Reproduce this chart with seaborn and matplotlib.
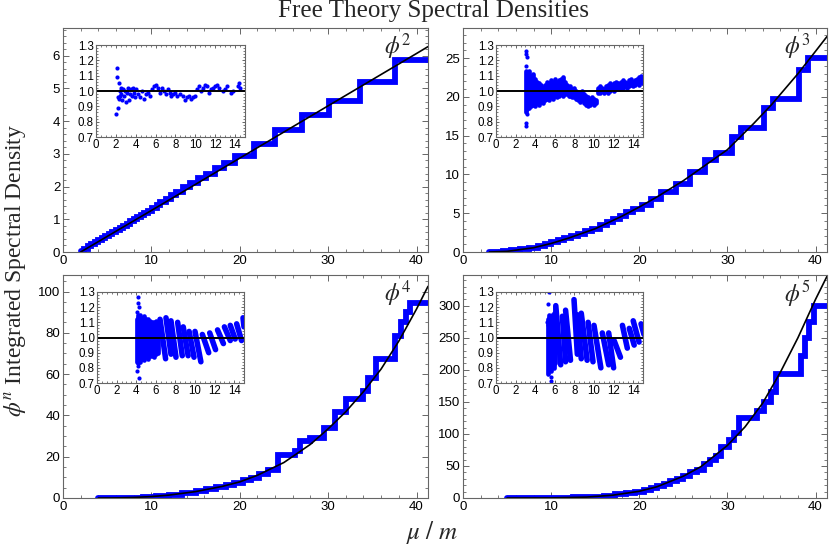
import matplotlib
matplotlib.use("Agg")
import matplotlib.pyplot as plt
import seaborn as sns
from matplotlib.ticker import MultipleLocator

# ---------------- main panels: smooth free-theory curve ----------------
curve2_x = [2.0, 10.0, 20.0, 30.0, 40.0, 41.3]
curve2_y = [0.0, 1.27, 2.87, 4.47, 6.07, 6.28]
curve3_x = [3.0, 5.0, 8.0, 10.0, 12.0, 15.0, 18.0, 20.0, 22.0, 25.0, 28.0, 30.0, 33.0, 35.0, 38.0, 40.0, 41.3]
curve3_y = [0.0, 0.08, 0.55, 1.1, 1.8, 3.0, 4.6, 5.8, 7.1, 9.2, 11.6, 13.2, 16.6, 19.0, 23.0, 25.9, 27.8]
curve4_x = [4.0, 6.0, 8.0, 10.0, 12.0, 15.0, 18.0, 20.0, 22.0, 25.0, 28.0, 30.0, 32.0, 34.0, 36.0, 38.0, 40.0, 41.3]
curve4_y = [0.0, 0.05, 0.25, 0.7, 1.4, 3.1, 5.6, 7.8, 11.0, 17.2, 26.0, 33.5, 41.8, 51.5, 62.5, 76.0, 91.5, 102.5]
curve5_x = [5.0, 10.0, 14.0, 17.0, 20.0, 22.0, 25.0, 27.0, 30.0, 32.0, 34.0, 36.0, 38.0, 40.0, 41.3]
curve5_y = [0.0, 0.15, 1.4, 4.4, 10.5, 17.5, 34.0, 49.0, 82.0, 111.0, 148.0, 196.0, 250.0, 310.0, 346.0]

# ---------------- main panels: lattice staircase ----------------
step2_x = [2.0, 2.4, 2.8, 3.2, 3.6, 4.0, 4.4, 4.8, 5.2, 5.6, 6.0, 6.4, 6.8, 7.2, 7.6, 8.0, 8.4, 8.8,
           9.2, 9.6, 10.1, 10.6, 11.0, 11.6, 12.2, 12.8, 13.6, 14.4, 15.3, 16.2, 17.2, 18.2, 19.5,
           21.6, 24.0, 27.0, 30.1, 33.6, 37.6, 41.3]
step2_y = [0.04, 0.10, 0.17, 0.23, 0.30, 0.36, 0.42, 0.49, 0.55, 0.62, 0.68, 0.74, 0.81, 0.87, 0.94, 1.00,
           1.06, 1.13, 1.19, 1.26, 1.36, 1.44, 1.52, 1.62, 1.73, 1.83, 1.98, 2.10, 2.26, 2.40, 2.56, 2.72,
           2.94, 3.30, 3.74, 4.20, 4.63, 5.20, 5.88, 5.88]
step3_x = [3.0, 4.5, 5.5, 6.5, 7.5, 8.5, 9.3, 10.0, 10.8, 11.5, 12.2, 13.0, 13.8, 14.6, 15.5, 16.3,
           17.0, 17.8, 18.5, 19.3, 20.3, 21.3, 22.5, 24.2, 25.8, 27.5, 28.7, 30.5, 31.5, 34.2, 35.2,
           38.1, 39.1, 41.3]
step3_y = [0.02, 0.10, 0.22, 0.40, 0.58, 0.80, 1.0, 1.25, 1.5, 1.75, 2.0, 2.3, 2.65, 3.0, 3.45, 3.85,
           4.25, 4.7, 5.1, 5.5, 6.1, 6.8, 7.8, 8.8, 10.3, 11.9, 12.8, 14.9, 16.0, 18.6, 19.8,
           23.5, 25.0, 25.0]
step4_x = [4.0, 7.0, 9.0, 10.5, 12.0, 13.5, 15.0, 16.2, 17.3, 18.4, 19.4, 20.4, 21.3, 22.2, 23.2,
           24.3, 26.2, 26.8, 28.0, 29.5, 30.8, 32.0, 33.9, 34.5, 35.4, 37.6, 38.3, 38.8, 39.3, 41.3]
step4_y = [0.0, 0.15, 0.5, 0.95, 1.6, 2.4, 3.4, 4.3, 5.2, 6.2, 7.2, 8.5, 9.8, 11.5, 13.5,
           21.0, 23.0, 27.5, 29.0, 34.0, 41.5, 47.9, 52.0, 58.0, 67.4, 78.5, 85.0, 90.0, 94.4, 94.4]
step5_x = [5.0, 10.0, 12.5, 14.5, 16.0, 17.3, 18.5, 19.5, 20.5, 21.3, 22.0, 22.8, 23.5, 24.3, 25.0,
           25.8, 26.5, 27.3, 28.0, 28.7, 29.3, 30.2, 30.7, 31.3, 33.4, 34.2, 35.0, 35.5, 38.3, 38.8,
           39.3, 39.85, 41.3]
step5_y = [0.0, 0.3, 1.0, 2.0, 3.5, 5.5, 7.5, 9.5, 12.5, 15.5, 18.5, 22.5, 26.0, 30.0, 35.0,
           40.0, 44.0, 53.0, 60.0, 66.0, 80.0, 90.0, 101.0, 124.5, 135.0, 150.0, 165.0, 193.0, 222.0, 250.0,
           275.0, 300.0, 300.0]

# ---------------- insets: ratio lattice / continuum ----------------
ratio2_x = [2.05, 2.08, 2.15, 2.2, 2.25, 2.3, 2.35, 2.4, 2.45, 2.5, 2.55, 2.6, 2.7, 2.8, 2.9, 3.0,
            3.1, 3.2, 3.3, 3.4, 3.5, 3.6, 3.7, 3.8, 3.9, 4.0, 4.2, 4.4, 4.6, 4.8, 5.0, 5.2, 5.4,
            5.6, 5.8, 6.0, 6.2, 6.4, 6.6, 6.8, 7.0, 7.2, 7.4, 7.6, 7.8, 8.0, 8.2, 8.5, 8.8, 9.0,
            9.2, 9.4, 9.6, 9.8, 10.0, 10.2, 10.4, 10.6, 10.8, 11.0, 11.2, 11.4, 11.6, 11.8, 12.0,
            12.2, 12.4, 12.8, 13.0, 13.2, 13.6, 13.8, 14.3, 14.4, 14.5]
ratio2_y = [0.85, 1.15, 1.09, 0.96, 0.89, 1.05, 0.95, 1.0, 0.97, 1.02, 0.98, 0.94, 1.01, 0.97, 1.0, 0.93,
            0.99, 1.02, 0.94, 0.98, 1.01, 0.97, 1.02, 0.99, 0.96, 1.01, 0.98, 0.96, 1.0, 0.95, 0.98, 0.99, 0.97,
            1.01, 1.03, 1.04, 1.02, 0.99, 1.02, 1.0, 0.98, 1.01, 0.99, 0.97, 0.98, 0.99, 0.97, 0.98, 0.97, 0.94,
            0.96, 0.97, 0.95, 0.96, 0.97, 1.01, 1.03, 1.0, 1.02, 1.04, 1.03, 0.99, 1.01, 1.02, 1.03,
            1.04, 1.02, 1.0, 1.01, 1.03, 0.99, 1.0, 1.03, 1.05, 1.02]

# spread of the dense point clouds (x, lowest, highest ratio)
band3_x = [3.05, 3.2, 3.4, 3.6, 3.8, 4.0, 4.2, 4.4, 4.6, 4.8, 5.0, 5.2, 5.4, 5.6, 5.8, 6.0, 6.2, 6.4,
           6.6, 6.8, 7.0, 7.2, 7.4, 7.6, 7.8, 8.0, 8.2, 8.4, 8.6, 8.8, 9.0, 9.2, 9.4, 9.6, 9.8, 10.0,
           10.2, 10.4, 10.6, 10.8, 11.0, 11.2, 11.4, 11.6, 11.8, 12.0, 12.2, 12.4, 12.6, 12.8, 13.0,
           13.2, 13.4, 13.6, 13.8, 14.0, 14.2, 14.4, 14.6, 14.8, 15.0]
band3_lo = [0.86, 0.88, 0.89, 0.9, 0.91, 0.9, 0.92, 0.91, 0.93, 0.92, 0.94, 0.95, 0.94, 0.96, 0.95, 0.97,
            0.96, 0.97, 0.98, 0.97, 0.98, 0.98, 0.97, 0.97, 0.96, 0.96, 0.95, 0.94, 0.93, 0.94, 0.92, 0.91,
            0.90, 0.91, 0.92, 0.91, 0.92, 0.99, 0.99, 1.0, 0.99, 1.0, 0.99, 1.0, 1.01, 1.0, 1.01, 1.02,
            1.01, 1.02, 1.02, 1.03, 1.02, 1.03, 1.04, 1.03, 1.04, 1.05, 1.04, 1.06, 1.05]
band3_hi = [1.13, 1.12, 1.13, 1.1, 1.11, 1.08, 1.06, 1.05, 1.04, 1.02, 1.04, 1.06, 1.05, 1.07, 1.06, 1.08,
            1.06, 1.07, 1.08, 1.09, 1.06, 1.04, 1.02, 1.03, 1.01, 1.02, 1.0, 0.99, 0.99, 1.0, 0.98, 0.97,
            0.96, 0.95, 0.96, 0.95, 0.94, 1.02, 1.03, 1.02, 1.01, 1.03, 1.04, 1.05, 1.04, 1.05, 1.06, 1.05,
            1.04, 1.06, 1.07, 1.06, 1.05, 1.07, 1.08, 1.06, 1.07, 1.08, 1.09, 1.10, 1.09]
out3_x = [3.05, 3.1, 3.15, 3.05, 3.12, 3.05, 3.08]
out3_y = [1.26, 1.24, 1.22, 1.16, 0.85, 0.79, 0.77]

band4_x = [4.05, 4.15, 4.25, 4.4, 4.6, 4.8, 5.0, 5.2, 5.4, 5.6, 5.8, 6.0, 6.2]
band4_lo = [0.84, 0.83, 0.85, 0.84, 0.86, 0.85, 0.87, 0.86, 0.88, 0.88, 0.87, 0.89, 0.9]
band4_hi = [1.12, 1.15, 1.13, 1.15, 1.13, 1.14, 1.12, 1.12, 1.11, 1.1, 1.1, 1.11, 1.1]
out4_x = [4.2, 4.15, 4.3, 4.05, 4.25, 4.2, 4.1]
out4_y = [1.27, 1.23, 1.2, 1.17, 0.73, 0.81, 0.78]
# sawtooth streaks: start x, start ratio, end x, end ratio
tooth4_x0 = [6.43, 7.04, 7.55, 8.23, 8.8, 9.4, 10.0, 10.75, 11.5, 12.3, 13.0, 13.6, 14.25, 14.9]
tooth4_y0 = [1.12, 1.13, 1.11, 1.10, 1.07, 1.04, 1.04, 1.02, 1.03, 1.05, 1.07, 1.08, 1.09, 1.13]
tooth4_x1 = [7.0, 7.55, 8.06, 8.7, 9.3, 9.9, 10.6, 11.4, 12.1, 12.9, 13.6, 14.1, 14.75, 15.0]
tooth4_y1 = [0.86, 0.89, 0.87, 0.88, 0.88, 0.87, 0.84, 0.90, 0.92, 0.96, 0.98, 0.99, 0.98, 1.07]

band5_x = [5.3, 5.45, 5.6, 5.75, 5.9, 6.05]
band5_lo = [0.76, 0.80, 0.78, 0.82, 0.80, 0.83]
band5_hi = [1.12, 1.15, 1.13, 1.15, 1.16, 1.20]
out5_x = [5.4, 5.3, 5.25, 5.3, 5.65, 5.6]
out5_y = [1.30, 1.22, 1.10, 1.08, 0.71, 0.74]
tooth5_x0 = [6.1, 6.77, 7.1, 7.96, 8.3, 8.7, 9.4, 10.0, 10.85, 11.5, 12.05, 12.9, 13.6, 14.0, 14.8]
tooth5_y0 = [1.21, 1.14, 1.18, 1.25, 1.15, 1.16, 1.10, 1.08, 1.03, 1.03, 0.98, 1.08, 1.06, 1.11, 1.09]
tooth5_x1 = [6.6, 7.1, 7.6, 8.3, 8.7, 9.3, 9.9, 10.7, 11.5, 12.0, 12.7, 13.4, 14.1, 14.6, 15.1]
tooth5_y1 = [0.82, 0.84, 0.85, 0.89, 0.86, 0.85, 0.84, 0.80, 0.82, 0.80, 0.87, 0.93, 0.95, 0.97, 1.02]

BLUE = "#0000ff"
FRAME = "#666666"

sns.set_style("ticks")
plt.rcParams["mathtext.fontset"] = "stix"
plt.rcParams["font.family"] = ["Liberation Sans", "DejaVu Sans"]

fig = plt.figure(figsize=(8.3, 5.49), dpi=100)


def frame(ax, fs):
    for s in ax.spines.values():
        s.set_color(FRAME)
        s.set_linewidth(0.8)
    ax.tick_params(which="both", direction="in", top=True, right=True, color=FRAME,
                   labelsize=fs, labelcolor="black")
    ax.tick_params(which="major", length=4, width=0.7, pad=2)
    ax.tick_params(which="minor", length=2, width=0.6)
    ax.set_xlabel("")
    ax.set_ylabel("")


def main_panel(rect, cx, cy, sx, sy, ymax, ymaj, ymin_, label):
    ax = fig.add_axes(rect)
    sns.lineplot(x=sx, y=sy, drawstyle="steps-post", color=BLUE, lw=4.2, sort=False,
                 estimator=None, ax=ax, solid_joinstyle="miter")
    sns.lineplot(x=cx, y=cy, color="black", lw=1.2, sort=False, estimator=None, ax=ax)
    ax.set_xlim(0, 41.3)
    ax.set_ylim(0, ymax)
    ax.xaxis.set_major_locator(MultipleLocator(10))
    ax.xaxis.set_minor_locator(MultipleLocator(2))
    ax.yaxis.set_major_locator(MultipleLocator(ymaj))
    ax.yaxis.set_minor_locator(MultipleLocator(ymin_))
    frame(ax, 9.5)
    ax.text(0.918, 0.915, label, transform=ax.transAxes, ha="center", va="center", fontsize=17)
    return ax


def inset(rect, px=None, py=None, bx=None, blo=None, bhi=None,
          ox=None, oy=None, tx0=None, ty0=None, tx1=None, ty1=None):
    ax = fig.add_axes(rect)
    if bx is not None:
        ax.vlines(bx, blo, bhi, colors=BLUE, lw=3.4, capstyle="round")
    if tx0 is not None:
        for a, b, c, d in zip(tx0, ty0, tx1, ty1):
            ax.plot([a, c], [b, d], color=BLUE, lw=4.0, solid_capstyle="round")
    if px is not None:
        sns.scatterplot(x=px, y=py, color=BLUE, s=9, linewidth=0, ax=ax)
    if ox is not None:
        sns.scatterplot(x=ox, y=oy, color=BLUE, s=9, linewidth=0, ax=ax)
    ax.axhline(1.0, color="black", lw=1.4)
    ax.set_xlim(0, 15)
    ax.set_ylim(0.7, 1.3)
    ax.xaxis.set_major_locator(MultipleLocator(2))
    ax.xaxis.set_minor_locator(MultipleLocator(0.5))
    ax.yaxis.set_minor_locator(MultipleLocator(0.02))
    ax.set_yticks([0.7, 0.8, 0.9, 1.0, 1.1, 1.2, 1.3])
    ax.set_yticklabels(["0.7", "0.8", "0.9", "1.0", "1.1", "1.2", "1.3"])
    frame(ax, 8.3)
    ax.tick_params(which="major", length=2.5, pad=1.5)
    ax.tick_params(which="minor", length=1.3)
    return ax


W, H = 830.0, 549.0


def r(x0, y0, x1, y1):
    return [x0 / W, 1 - y1 / H, (x1 - x0) / W, (y1 - y0) / H]


main_panel(r(63, 28, 428, 252), curve2_x, curve2_y, step2_x, step2_y, 6.85, 1, 0.2, r"$\phi^{2}$")
main_panel(r(463, 28, 827, 252), curve3_x, curve3_y, step3_x, step3_y, 28.9, 5, 1, r"$\phi^{3}$")
main_panel(r(63, 275, 428, 498), curve4_x, curve4_y, step4_x, step4_y, 108, 20, 5, r"$\phi^{4}$")
main_panel(r(463, 275, 827, 498), curve5_x, curve5_y, step5_x, step5_y, 348, 50, 10, r"$\phi^{5}$")

inset(r(96, 45, 245, 137), px=ratio2_x, py=ratio2_y)
inset(r(496, 45, 643, 137), bx=band3_x, blo=band3_lo, bhi=band3_hi, ox=out3_x, oy=out3_y)
inset(r(97, 292, 244, 383), bx=band4_x, blo=band4_lo, bhi=band4_hi, ox=out4_x, oy=out4_y,
      tx0=tooth4_x0, ty0=tooth4_y0, tx1=tooth4_x1, ty1=tooth4_y1)
inset(r(496, 292, 643, 383), bx=band5_x, blo=band5_lo, bhi=band5_hi, ox=out5_x, oy=out5_y,
      tx0=tooth5_x0, ty0=tooth5_y0, tx1=tooth5_x1, ty1=tooth5_y1)

serif = ["Liberation Serif", "DejaVu Serif"]
fig.text(433 / W, 1 - 11 / H, "Free Theory Spectral Densities", ha="center", va="center",
         fontsize=18, family=serif)
fig.text(15 / W, 1 - 270 / H, r"$\phi^{n}$ Integrated Spectral Density", ha="center", va="center",
         rotation=90, fontsize=17, family=serif)
fig.text(432 / W, 1 - 533 / H, r"$\mu\ /\ m$", ha="center", va="center", fontsize=18, family=serif)

fig.savefig("out.png", dpi=100)
